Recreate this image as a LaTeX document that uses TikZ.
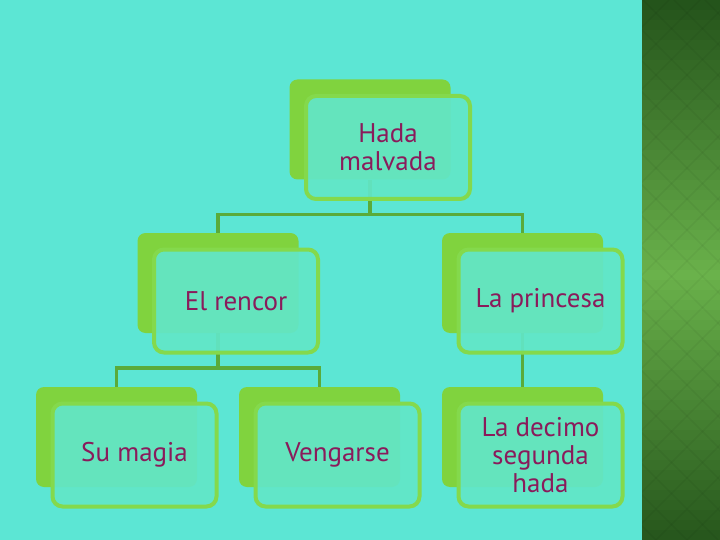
\documentclass[tikz,border=0pt]{standalone}
\usepackage{fontspec}
\setmainfont{PT Sans}
\usetikzlibrary{positioning}

\definecolor{sea}{HTML}{5CE6D4}
\definecolor{pale}{HTML}{62E6C8}
\definecolor{leaf}{HTML}{80D33E}
\definecolor{rim}{HTML}{84D94C}
\definecolor{stem}{HTML}{5AAB3A}
\definecolor{plum}{HTML}{8A1B5B}
\definecolor{pine}{HTML}{23521A}
\definecolor{moss}{HTML}{6AB24B}

\tikzset{
  backbox/.style={fill=leaf,minimum width=161pt,minimum height=100pt,rounded corners=8pt},
  frontbox/.style={draw=rim,line width=4pt,fill=pale,fill opacity=.92,text opacity=1,text=plum,
    minimum width=164pt,minimum height=103pt,rounded corners=10pt,align=center,
    font=\fontsize{27}{28}\selectfont},
  link/.style={draw=stem,line width=3.5pt},
  tile/.style={draw=black,opacity=.04,line width=1.5pt}
}

\begin{document}
\begin{tikzpicture}[x=1pt,y=-1pt]
  \useasboundingbox (0,0) rectangle (720,540);
  \fill [sea] (0,0) rectangle (720,540);

  % side strip
  \foreach \k in {0,...,53} {
    \pgfmathsetmacro\p{100-abs(\k*10+5-275)/2.75}
    \fill [moss!\p!pine] (642,\k*10) rectangle (720,\k*10+10.5);
  }
  \begin{scope}
    \clip (642,0) rectangle (720,540);
    \foreach \i in {-1,...,20} {
      \draw [tile] (656+31*\i-540,0) -- ++(540,540);
      \draw [tile] (656-31*\i+540,0) -- ++(-540,540);
    }
  \end{scope}

  \node [backbox] (t0) at (370,129.5) {};
  \node [backbox] (r0) at (218,283)   {};
  \node [backbox] (p0) at (522.5,283) {};
  \node [backbox] (m0) at (116.5,437) {};
  \node [backbox] (v0) at (319.5,437) {};
  \node [backbox] (d0) at (522.5,437) {};

  \draw [link] (t0.south) -- ++(0,35) -| (r0.north);
  \draw [link] (t0.south) -- ++(0,35) -| (p0.north);
  \draw [link] (r0.south) -- ++(0,35) -| (m0.north);
  \draw [link] (r0.south) -- ++(0,35) -| (v0.north);
  \draw [link] (p0.south) -- (d0.north);

  \node [frontbox] (t1) at ([shift={(18,18)}]t0) {Hada\\malvada};
  \node [frontbox] (r1) at ([shift={(18,18)}]r0) {El rencor};
  \node [frontbox] (p1) at ([shift={(18,18)}]p0) {La princesa};
  \node [frontbox] (m1) at ([shift={(18,18)}]m0) {Su magia};
  \node [frontbox] (v1) at ([shift={(18,18)}]v0) {Vengarse};
  \node [frontbox] (d1) at ([shift={(18,18)}]d0) {La decimo\\segunda\\hada};
\end{tikzpicture}
\end{document}
